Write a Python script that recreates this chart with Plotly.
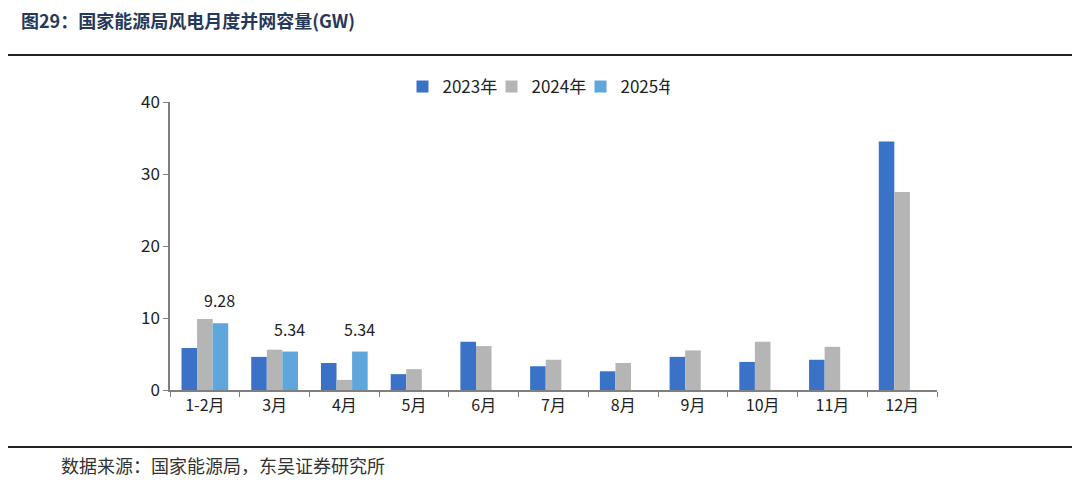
import plotly.graph_objects as go

months = ["1-2月", "3月", "4月", "5月", "6月", "7月", "8月", "9月", "10月", "11月", "12月"]
v2023 = [5.83, 4.6, 3.75, 2.2, 6.7, 3.3, 2.6, 4.6, 3.9, 4.2, 34.5]
v2024 = [9.86, 5.6, 1.4, 2.9, 6.1, 4.2, 3.75, 5.5, 6.7, 6.0, 27.5]
v2025 = [9.28, 5.34, 5.34, None, None, None, None, None, None, None, None]
series_names = ["2023年", "2024年", "2025年"]
colors = ["#3A72C8", "#B5B5B5", "#5EA6DC"]

title_text = "图29：国家能源局风电月度并网容量(GW)"
source_text = "数据来源：国家能源局，东吴证券研究所"

FONT = "Noto Sans CJK SC"

OFF = 8  # page body offset
W, H = 1080, 483
# desired on-screen plot area
SL, SR_X, ST, SB_Y = 170, 937, 102, 390
L = SL - OFF
T = ST - OFF
pw = SR_X - SL
ph = SB_Y - ST
R = W - L - pw
B = H - T - ph

def px(x):
    return (x - SL) / pw

def py(y):
    return (SB_Y - y) / ph

fig = go.Figure()
for name, vals, c in zip(series_names, [v2023, v2024, v2025], colors):
    fig.add_trace(go.Bar(x=months, y=vals, name=name, marker_color=c,
                         marker_line_width=0))

annotations = []
for m, v in zip(months, v2025):
    if v is not None:
        annotations.append(dict(x=m, y=v, xref="x", yref="y", text=f"{v:.2f}",
                                showarrow=False, xshift=15, yshift=23,
                                font=dict(family=FONT, size=16, color="#222")))

annotations.append(dict(x=px(19), y=py(20), xref="paper", yref="paper",
                        xanchor="left", yanchor="middle", showarrow=False,
                        text="<b>" + title_text + "</b>",
                        font=dict(family=FONT, size=18, color="#27395A")))
annotations.append(dict(x=px(59), y=py(465), xref="paper", yref="paper",
                        xanchor="left", yanchor="middle", showarrow=False,
                        text=source_text,
                        font=dict(family=FONT, size=18, color="#333")))

shapes = [
    dict(type="line", xref="paper", yref="paper", x0=px(5), x1=px(1075),
         y0=py(55), y1=py(55), line=dict(color="#222", width=2)),
    dict(type="line", xref="paper", yref="paper", x0=px(5), x1=px(1075),
         y0=py(447), y1=py(447), line=dict(color="#222", width=2)),
]

fig.update_layout(
    width=W, height=H,
    margin=dict(l=L, r=R, t=T, b=B),
    barmode="group", bargap=0.33, bargroupgap=0,
    plot_bgcolor="white", paper_bgcolor="white",
    font=dict(family=FONT, size=15, color="#222"),
    showlegend=True,
    legend=dict(orientation="h", x=px(536), xanchor="center", y=py(87), yanchor="middle",
                font=dict(family=FONT, size=17, color="#222"),
                itemwidth=30, entrywidth=44, traceorder="normal"),
    annotations=annotations,
    shapes=shapes,
    xaxis=dict(showline=True, linecolor="#7F7F7F", linewidth=1.5,
               ticks="outside", tickson="boundaries", ticklen=5, tickcolor="#7F7F7F",
               tickfont=dict(family=FONT, size=16, color="#222"),
               showgrid=False),
    yaxis=dict(range=[0, 40], tickvals=[0, 10, 20, 30, 40], showline=True,
               linecolor="#7F7F7F", linewidth=1.5, ticks="outside", ticklen=5,
               tickcolor="#7F7F7F", showgrid=False, zeroline=False,
               tickfont=dict(family=FONT, size=17, color="#222")),
)

fig.write_html("out.html")
